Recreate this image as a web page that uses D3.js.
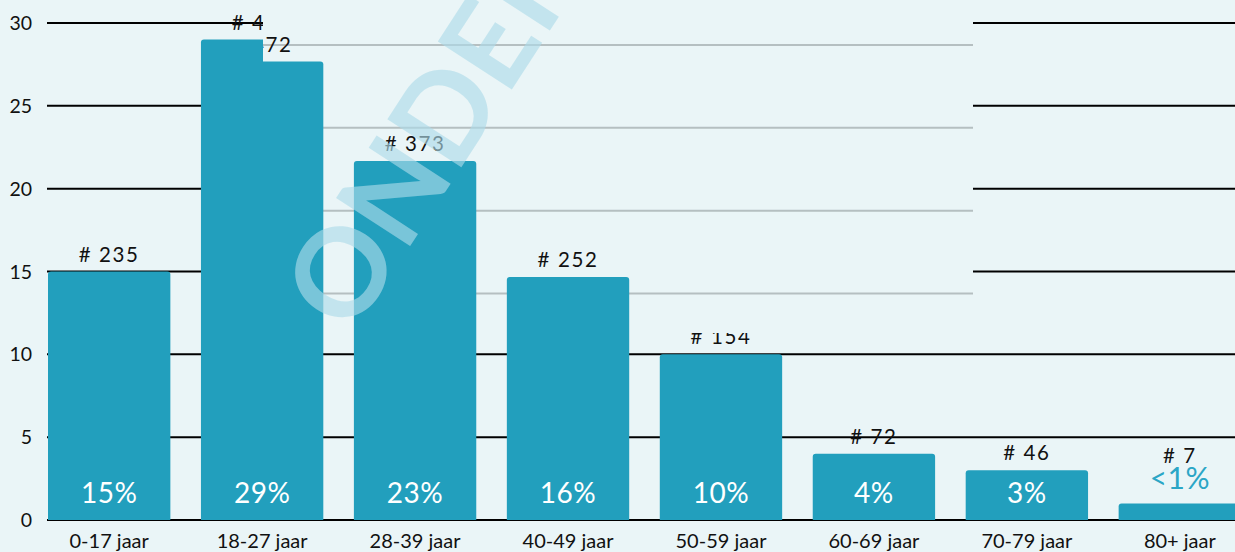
<!DOCTYPE html>
<html>
<head>
<meta charset="utf-8">
<script src="https://cdn.jsdelivr.net/npm/d3@7"></script>
<style>
  html, body { margin: 0; padding: 0; background: #eaf5f7; }
  svg { display: block; font-family: Lato, "Noto Sans", sans-serif; }
</style>
</head>
<body>
<svg width="1235" height="552"></svg>
<script>
const categories = ["0-17 jaar", "18-27 jaar", "28-39 jaar", "40-49 jaar", "50-59 jaar", "60-69 jaar", "70-79 jaar", "80+ jaar"];
const percentages = [15, 29, 23, 16, 10, 4, 3, 1];
const counts = [235, 472, 373, 252, 154, 72, 46, 7];
const percentLabels = ["15%", "29%", "23%", "16%", "10%", "4%", "3%", "<1%"];
const yTicks = [0, 5, 10, 15, 20, 25, 30];

const barColor = "#229fbd";
const bgColor = "#eaf5f7";

const svg = d3.select("svg");

const x = d3.scaleBand()
  .domain(categories)
  .range([48, 1241])
  .paddingInner(0.2)
  .paddingOuter(0);

const y = d3.scaleLinear()
  .domain([0, 30])
  .range([520, 23]);

function barPath(x0, y0, w, h, r) {
  return `M${x0},${y0 + h}V${y0 + r}Q${x0},${y0} ${x0 + r},${y0}H${x0 + w - r}Q${x0 + w},${y0} ${x0 + w},${y0 + r}V${y0 + h}Z`;
}

// draws gridlines, bars and value labels into g
function drawChart(g, gridColor) {
  g.selectAll(".grid")
    .data(yTicks)
    .enter().append("line")
    .attr("class", "grid")
    .attr("x1", 47)
    .attr("x2", 1235)
    .attr("y1", d => y(d))
    .attr("y2", d => y(d))
    .attr("stroke", gridColor)
    .attr("stroke-width", 2);

  g.selectAll(".bar")
    .data(categories)
    .enter().append("path")
    .attr("class", "bar")
    .attr("fill", barColor)
    .attr("d", (d, i) => barPath(x(d), y(percentages[i]), x.bandwidth(), y(0) - y(percentages[i]), 3));

  categories.forEach((c, i) => {
    const cx = x(c) + x.bandwidth() / 2;
    const top = y(percentages[i]);
    const inside = y(0) - top > 40;

    g.append("text")
      .attr("x", cx)
      .attr("y", inside ? 503 : top - 14)
      .attr("text-anchor", "middle")
      .attr("font-size", inside ? 28 : 30)
      .attr("font-weight", 400)
      .attr("letter-spacing", 0.5)
      .attr("fill", inside ? "#ffffff" : "#2ba6c6")
      .text(percentLabels[i]);

    g.append("text")
      .attr("x", cx)
      .attr("y", inside ? top - 10 : top - 40)
      .attr("text-anchor", "middle")
      .attr("font-size", 20.5)
      .attr("letter-spacing", 1.6)
      .attr("fill", "#111")
      .text("# " + counts[i]);
  });
}

drawChart(svg.append("g"), "#000");

// shifted strip as in the reference
svg.append("defs").append("clipPath")
  .attr("id", "shift")
  .append("rect")
  .attr("x", 263).attr("y", 0)
  .attr("width", 710).attr("height", 333);

const strip = svg.append("g").attr("clip-path", "url(#shift)");
strip.append("rect")
  .attr("x", 263).attr("y", 0)
  .attr("width", 710).attr("height", 333)
  .attr("fill", bgColor);
drawChart(strip.append("g").attr("transform", "translate(0,22)"), "#b5bfc1");

// y axis labels
svg.selectAll(".ylabel")
  .data(yTicks)
  .enter().append("text")
  .attr("class", "ylabel")
  .attr("x", 32)
  .attr("y", d => y(d) + 7)
  .attr("text-anchor", "end")
  .attr("font-size", 19.5)
  .attr("fill", "#111")
  .text(d => d);

// x axis labels
svg.selectAll(".xlabel")
  .data(categories)
  .enter().append("text")
  .attr("class", "xlabel")
  .attr("x", d => x(d) + x.bandwidth() / 2)
  .attr("y", 548)
  .attr("text-anchor", "middle")
  .attr("font-size", 20)
  .attr("fill", "#111")
  .text(d => d);

// watermark
svg.append("text")
  .attr("transform", "translate(351,337) rotate(-57)")
  .attr("font-size", 122)
  .attr("font-weight", 700)
  .attr("fill", "#acdae9")
  .attr("fill-opacity", 0.63)
  .text("ONDERZOEK");
</script>
</body>
</html>
